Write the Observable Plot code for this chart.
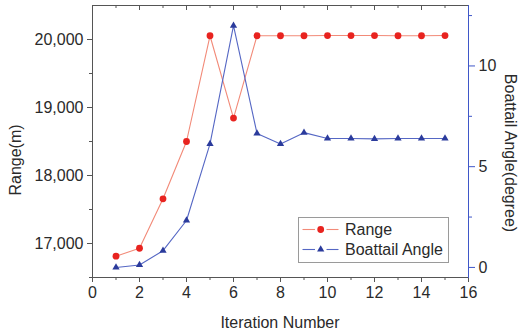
<!DOCTYPE html>
<html>
<head>
<meta charset="utf-8">
<script src="https://cdn.jsdelivr.net/npm/d3@7"></script>
<script src="https://cdn.jsdelivr.net/npm/@observablehq/plot@0.6"></script>
<style>
  html, body { margin: 0; padding: 0; background: #fff; }
  #chart { width: 521px; height: 334px; position: relative; }
</style>
</head>
<body>
<div id="chart"></div>
<script>
// ---- data ----
const iteration = [1, 2, 3, 4, 5, 6, 7, 8, 9, 10, 11, 12, 13, 14, 15];
const rangeM = [16813, 16930, 17657, 18500, 20055, 18844, 20055, 20055, 20055, 20058, 20058, 20058, 20055, 20055, 20058];
const boattailAngle = [0.0, 0.12, 0.83, 2.33, 6.13, 12.0, 6.65, 6.13, 6.69, 6.4, 6.4, 6.38, 6.4, 6.4, 6.4];
const seriesNames = ["Range", "Boattail Angle"];
const axisTitles = {x: "Iteration Number", yLeft: "Range(m)", yRight: "Boattail Angle(degree)"};
const xTicks = [0, 2, 4, 6, 8, 10, 12, 14, 16];
const xMinor = [1, 3, 5, 7, 9, 11, 13, 15];
const rangeTicks = [17000, 18000, 19000, 20000];
const rangeMinor = [16500, 17500, 18500, 19500];
const angleTicks = [0, 5, 10];
const angleMinor = [2.5, 7.5, 12.5];

// ---- scales ----
const yDom = [16500, 20500];
const aDom = [-0.5, 13];
const toY = a => yDom[0] + (a - aDom[0]) / (aDom[1] - aDom[0]) * (yDom[1] - yDom[0]);
const fromY = y => aDom[0] + (y - yDom[0]) / (yDom[1] - yDom[0]) * (aDom[1] - aDom[0]);

const data = iteration.map((it, i) => ({it, range: rangeM[i], angle: boattailAngle[i]}));

const red = "#e8231f", redLine = "#f28a78";
const blue = "#2b3b9c", blueLine = "#5567c4", blueAxis = "#3f57c8";
const gray = "#555";
const txt = "#2a2a2a";
const font = "'Liberation Sans', Arial, sans-serif";
const W = 521, H = 334, mL = 92, mR = 53, mT = 5, mB = 57;
const innerH = H - mT - mB;

const chart = Plot.plot({
  width: W, height: H,
  marginLeft: mL, marginRight: mR, marginTop: mT, marginBottom: mB,
  style: {fontFamily: font, fontSize: "16px", color: txt, background: "#fff"},
  x: {domain: [0, 16]},
  y: {domain: yDom},
  marks: [
    Plot.frame({anchor: "top", stroke: gray}),
    Plot.frame({anchor: "bottom", stroke: gray}),
    Plot.frame({anchor: "left", stroke: gray}),
    // top inward ticks
    Plot.ruleX(xTicks, {x: d => d, insetBottom: innerH - 5, stroke: gray}),
    Plot.ruleX(xMinor, {x: d => d, insetBottom: innerH - 3, stroke: gray}),
    // bottom axis
    Plot.axisX({ticks: xTicks, tickSize: 5, tickPadding: 4, label: null, stroke: gray, fill: txt, fontSize: 16}),
    Plot.axisX({ticks: xMinor, tickSize: 3, text: null, label: null, stroke: gray}),
    // left axis
    Plot.axisY({ticks: rangeTicks, tickFormat: d3.format(","), tickSize: 5, tickPadding: 4, label: null, stroke: gray, fill: txt, fontSize: 16}),
    Plot.axisY({ticks: rangeMinor, tickSize: 3, text: null, label: null, stroke: gray}),
    // right axis (angle)
    Plot.frame({anchor: "right", stroke: blueAxis}),
    Plot.axisY({anchor: "right", ticks: angleTicks.map(toY), tickFormat: v => String(Math.round(fromY(v))), tickSize: 6, tickPadding: 4, label: null, stroke: blueAxis, fill: txt, fontSize: 16}),
    Plot.axisY({anchor: "right", ticks: angleMinor.map(toY), tickSize: 3, text: null, label: null, stroke: blueAxis}),
    // series
    Plot.line(data, {x: "it", y: "range", stroke: redLine, strokeWidth: 1.1}),
    Plot.line(data, {x: "it", y: d => toY(d.angle), stroke: blueLine, strokeWidth: 1.1}),
    Plot.dot(data, {x: "it", y: "range", fill: red, r: 3.4, symbol: "circle"}),
    Plot.dot(data, {x: "it", y: d => toY(d.angle), fill: blue, r: 2.7, symbol: "triangle"})
  ]
});

document.getElementById("chart").appendChild(chart);

const svg = d3.select(chart);

// ---- axis titles ----
const tg = svg.append("g").attr("font-family", font).attr("font-size", 16).attr("fill", txt).attr("text-anchor", "middle");
tg.append("text").attr("transform", `translate(${(mL + W - mR) / 2},322)`).attr("dy", "0.35em").text(axisTitles.x);
tg.append("text").attr("transform", "translate(15,160) rotate(-90)").attr("dy", "0.35em").text(axisTitles.yLeft);
tg.append("text").attr("transform", "translate(511,153) rotate(90)").attr("dy", "0.35em").text(axisTitles.yRight);

// ---- legend ----
const lg = svg.append("g").attr("font-family", font).attr("font-size", 16).attr("text-anchor", "start");
lg.append("rect").attr("x", 298.5).attr("y", 217.5).attr("width", 150).attr("height", 45)
  .attr("fill", "#fff").attr("stroke", "#9a9a9a").attr("stroke-width", 1);
const rows = [
  {name: seriesNames[0], line: redLine, fill: red, sym: d3.symbolCircle, size: Math.PI * 3.4 * 3.4},
  {name: seriesNames[1], line: blueLine, fill: blue, sym: d3.symbolTriangle, size: Math.PI * 2.7 * 2.7}
];
rows.forEach((r, i) => {
  const cy = 229.5 + i * 20;
  lg.append("line").attr("x1", 302.5).attr("x2", 315).attr("y1", cy).attr("y2", cy).attr("stroke", r.line).attr("stroke-width", 1.1);
  lg.append("line").attr("x1", 326.5).attr("x2", 338.5).attr("y1", cy).attr("y2", cy).attr("stroke", r.line).attr("stroke-width", 1.1);
  lg.append("path").attr("d", d3.symbol(r.sym, r.size)()).attr("transform", `translate(320.7,${cy})`).attr("fill", r.fill);
  lg.append("text").attr("x", 345).attr("y", cy).attr("dy", "0.35em").attr("fill", txt).text(r.name);
});
</script>
</body>
</html>
